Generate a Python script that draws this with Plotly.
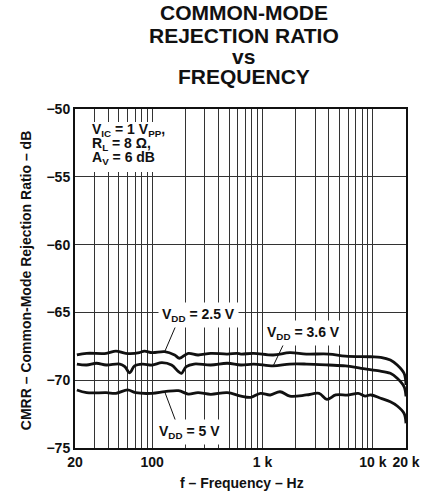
import numpy as np
import plotly.graph_objects as go

# ---------------- data ----------------
freq_25 = [20.8, 25.5, 38.4, 47, 57.7, 76.7, 85, 100, 130, 160, 177, 212.5, 260.6, 340, 480, 589,
           639, 832, 1251, 1770, 2500, 4000, 5650, 9600, 11780, 14430, 16650, 19200, 20000]
cmrr_25 = [-68.14, -68.02, -68.02, -67.85, -68.02, -67.97, -67.85, -67.97, -67.90, -68.14, -68.38,
           -68.02, -68.14, -68.02, -68.07, -68.02, -68.07, -68.02, -68.14, -67.97, -68.07, -68.07,
           -68.22, -68.27, -68.31, -68.51, -68.88, -69.49, -70.35]

freq_36 = [20.8, 25.5, 31.3, 38.4, 51, 56.6, 62.6, 69.3, 81.6, 100, 122.7, 150, 173.4, 184.4, 204,
           240, 340, 480, 639, 832, 1251, 1770, 2500, 4000, 5650, 7835, 11070, 14430, 16650, 19200, 20000]
cmrr_36 = [-68.81, -68.88, -68.75, -68.88, -68.81, -69.0, -69.45, -68.95, -68.81, -68.88, -68.71,
           -68.88, -69.37, -69.49, -69.0, -68.81, -68.88, -68.75, -68.88, -68.81, -68.95, -68.81,
           -68.81, -68.88, -68.95, -69.12, -69.30, -69.49, -69.86, -70.48, -71.2]

freq_50 = [20.8, 25.5, 38.4, 47, 60, 70.7, 100, 130, 173.4, 212.5, 260.6, 340, 480, 639, 784, 960,
           1178, 1443, 1770, 2500, 3260, 3837, 4613, 6010, 7370, 8500, 9600, 11780, 14430, 16650,
           19200, 20000]
cmrr_50 = [-70.72, -70.92, -70.92, -70.97, -70.72, -70.92, -70.97, -70.85, -70.77, -71.02, -70.92,
           -71.04, -70.92, -71.17, -71.26, -70.97, -71.09, -70.85, -71.17, -71.09, -70.97, -71.41,
           -71.09, -71.09, -70.97, -71.17, -71.09, -71.33, -71.59, -71.90, -72.44, -73.18]

x_ticks = [20, 100, 1000, 10000, 20000]
x_labels = ["20", "100", "1 k", "10 k", "20 k"]
x_minor_grid = [30, 40, 50, 60, 70, 80, 90, 200, 300, 400, 500, 600, 700, 800, 900,
                2000, 3000, 4000, 5000, 6000, 7000, 8000, 9000]
y_ticks = [-75, -70, -65, -60, -55, -50]
y_labels = ["\u221275", "\u221270", "\u221265", "\u221260", "\u221255", "\u221250"]

title_lines = ["COMMON-MODE", "REJECTION RATIO", "vs", "FREQUENCY"]
cond_lines = ["V<sub>IC</sub> = 1 V<sub>PP</sub>,", "R<sub>L</sub> = 8 \u03a9,", "A<sub>V</sub> = 6 dB"]

# ---------------- layout geometry ----------------
W, H = 432, 494
L, R, T, B = 75, 414, 109, 448  # plot area in pixels


def px_x(p):
    return (p - L) / (R - L)


def px_y(p):
    return (B - p) / (B - T)


FONT = "Liberation Sans, Arial, Helvetica, sans-serif"
INK = "#111111"

fig = go.Figure()
for f, c in [(freq_25, cmrr_25), (freq_36, cmrr_36), (freq_50, cmrr_50)]:
    fig.add_trace(go.Scatter(x=f, y=c, mode="lines", line=dict(color=INK, width=2.8),
                             line_shape="spline", hoverinfo="skip", showlegend=False))

annotations = []
# title lines
for text, yc in zip(title_lines, [12.5, 35.5, 56.5, 76]):
    annotations.append(dict(text=text, xref="paper", yref="paper", x=px_x(248), y=px_y(yc),
                            xanchor="center", yanchor="middle", showarrow=False,
                            font=dict(family=FONT, size=21, color=INK, weight="bold")))
# conditions
for text, yc in zip(cond_lines, [130, 144, 158]):
    annotations.append(dict(text=text, xref="paper", yref="paper", x=px_x(90), y=px_y(yc),
                            xanchor="left", yanchor="middle", showarrow=False,
                            font=dict(family=FONT, size=14, color=INK, weight="bold")))
# series labels
for text, cx, cy in [("V<sub>DD</sub> = 2.5 V", 201.7, 315), ("V<sub>DD</sub> = 3.6 V", 309, 333),
                     ("V<sub>DD</sub> = 5 V", 192.5, 432)]:
    annotations.append(dict(text=text, xref="paper", yref="paper", x=px_x(cx), y=px_y(cy),
                            xanchor="center", yanchor="middle", showarrow=False,
                            bgcolor="white", borderpad=3,
                            font=dict(family=FONT, size=14, color=INK, weight="bold")))
# axis titles
annotations.append(dict(text="f \u2013 Frequency \u2013 Hz", xref="paper", yref="paper",
                        x=px_x(246), y=px_y(483), xanchor="center", yanchor="middle",
                        showarrow=False, font=dict(family=FONT, size=14, color=INK, weight="bold")))
annotations.append(dict(text="CMRR \u2013 Common-Mode Rejection Ratio \u2013 dB", xref="paper",
                        yref="paper", x=px_x(25), y=px_y(281), xanchor="center", yanchor="middle",
                        textangle=-90, showarrow=False,
                        font=dict(family=FONT, size=14, color=INK, weight="bold")))

shapes = [dict(type="rect", xref="paper", yref="paper", x0=px_x(88), x1=px_x(158),
               y0=px_y(172), y1=px_y(122), fillcolor="white", line=dict(width=0), layer="above")]
# leader lines (anchored on curve points, pixel offsets)
for fx, fy, dx, dy in [(freq_25[8], cmrr_25[8], 12, 28), (freq_36[20], cmrr_36[20], 10, 21),
                       (freq_50[7], cmrr_50[7], 12, -32)]:
    shapes.append(dict(type="line", xref="x", yref="y", xsizemode="pixel", ysizemode="pixel",
                       xanchor=fx, yanchor=fy, x0=0, y0=0, x1=dx, y1=dy,
                       line=dict(color=INK, width=1), layer="above"))

fig.update_layout(
    width=W, height=H,
    margin=dict(l=L, r=W - R, t=T, b=H - B, pad=0),
    paper_bgcolor="white", plot_bgcolor="white",
    annotations=annotations, shapes=shapes,
    xaxis=dict(type="log", range=[np.log10(20), np.log10(20000)], tickmode="array",
               tickvals=x_ticks, ticktext=x_labels,
               showgrid=True, gridcolor="#333333", gridwidth=1, ticks="",
               minor=dict(tickmode="array", tickvals=x_minor_grid, showgrid=True,
                          gridcolor="#333333", gridwidth=1, ticks=""),
               showline=True, linecolor=INK, linewidth=2, mirror=True, zeroline=False,
               tickfont=dict(family=FONT, size=14, color=INK, weight="bold")),
    yaxis=dict(range=[-75, -50], tickmode="array", tickvals=y_ticks, ticktext=y_labels,
               showgrid=True, gridcolor="#333333", gridwidth=1, ticks="",
               showline=True, linecolor=INK, linewidth=2, mirror=True, zeroline=False,
               tickfont=dict(family=FONT, size=14, color=INK, weight="bold")),
)

# remove the browser's default 8 px page margin so the figure fills the window exactly
fig.write_html("out.html", config={"displayModeBar": False, "staticPlot": True},
               post_script="document.body.style.margin='0';document.body.style.overflow='hidden';")
